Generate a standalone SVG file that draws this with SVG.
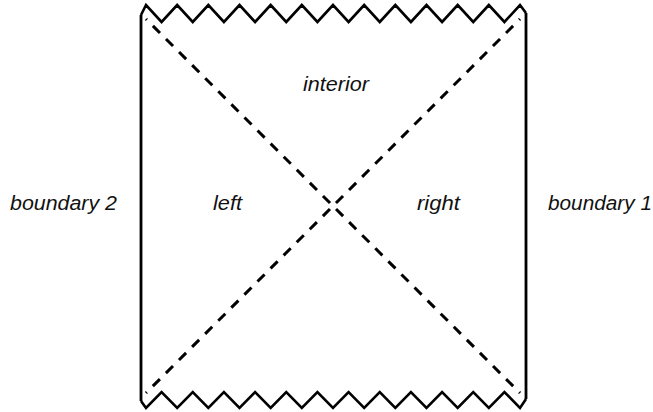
<svg xmlns="http://www.w3.org/2000/svg" width="653" height="412" viewBox="0 0 653 412">
<style>
.edge{fill:none;stroke:#000;stroke-width:2.8;stroke-linejoin:miter;stroke-linecap:butt}
.zig{fill:none;stroke:#000;stroke-width:2.6;stroke-linejoin:miter}
.horizon{fill:none;stroke:#000;stroke-width:3;stroke-dasharray:10 8.5;stroke-dashoffset:8.75}
.lbl{font-family:"Liberation Sans",Arial,Helvetica,sans-serif;font-style:italic;font-size:19.5px;fill:#111}
</style>
<rect width="653" height="412" fill="#fff"/>
<g id="boundary-2-edge"><line class="edge" x1="141" y1="15" x2="141" y2="401"/></g>
<g id="boundary-1-edge"><line class="edge" x1="526" y1="13" x2="526" y2="399"/></g>
<g id="singularity-top"><polyline class="zig" points="141,15 146,5 161.58,22 177.17,5 192.75,22 208.33,5 223.92,22 239.5,5 255.08,22 270.67,5 286.25,22 301.83,5 317.42,22 333,5 348.58,22 364.17,5 379.75,22 395.33,5 410.92,22 426.5,5 442.08,22 457.67,5 473.25,22 488.83,5 504.42,22 520,5 526,13"/></g>
<g id="singularity-bottom"><polyline class="zig" points="141,401 146,408 161.58,392 177.17,408 192.75,392 208.33,408 223.92,392 239.5,408 255.08,392 270.67,408 286.25,392 301.83,408 317.42,392 333,408 348.58,392 364.17,408 379.75,392 395.33,408 410.92,392 426.5,408 442.08,392 457.67,408 473.25,392 488.83,408 504.42,392 520,408 526,399"/></g>
<g id="connectors">
<line class="horizon" x1="146" y1="19" x2="520" y2="393"/>
<line class="horizon" x1="520" y1="19" x2="146" y2="393"/>
</g>
<g id="label-interior"><text class="lbl" x="303" y="91" textLength="66" lengthAdjust="spacingAndGlyphs">interior</text></g>
<g id="label-left"><text class="lbl" x="213" y="210" textLength="29" lengthAdjust="spacingAndGlyphs">left</text></g>
<g id="label-right"><text class="lbl" x="417" y="210" textLength="43" lengthAdjust="spacingAndGlyphs">right</text></g>
<g id="label-boundary-2"><text class="lbl" x="10" y="210" textLength="107" lengthAdjust="spacingAndGlyphs">boundary 2</text></g>
<g id="label-boundary-1"><text class="lbl" x="548" y="210" textLength="104" lengthAdjust="spacingAndGlyphs">boundary 1</text></g>
</svg>
